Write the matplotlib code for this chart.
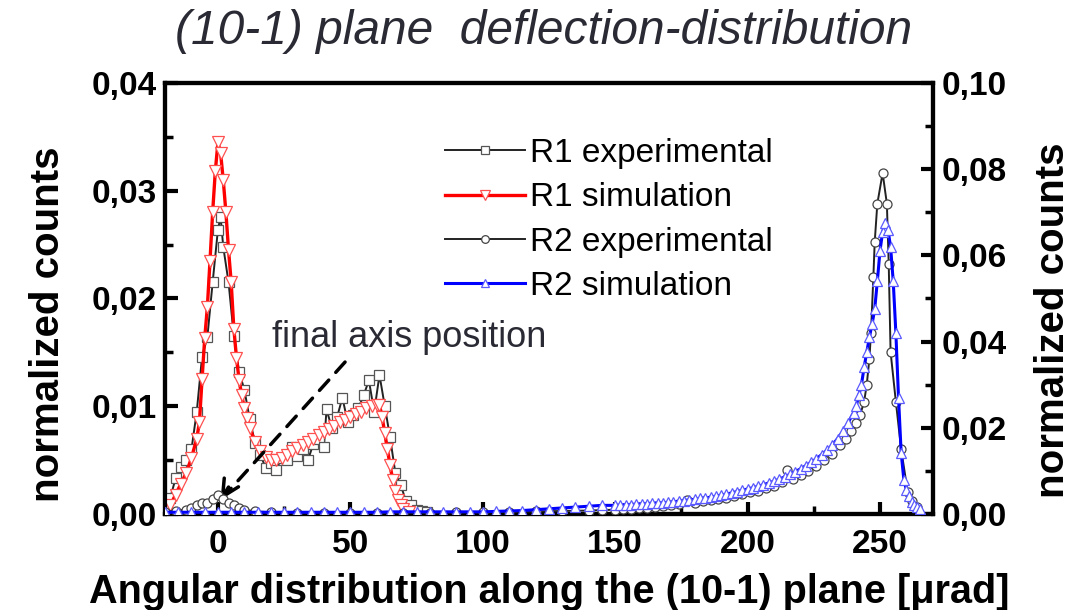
import numpy as np
import matplotlib
matplotlib.use("Agg")
import matplotlib.pyplot as plt
from matplotlib.ticker import FuncFormatter, MultipleLocator

plt.rcParams['font.family'] = ['Liberation Sans', 'DejaVu Sans']

# ---------------- data ----------------
r1_exp_x = [-18, -16, -14, -12, -10, -8, -6, -4, -2, 0, 1, 2, 4, 6, 8, 10, 12, 14, 16, 18,
            20, 22, 24, 26, 28, 30, 32, 34, 36, 38, 40, 41, 43, 45, 47, 49, 51, 53, 55, 57,
            59, 61, 63, 65, 67, 69, 71, 73, 75, 77, 79]
r1_exp_y = [0.0015, 0.0033, 0.0044, 0.0050, 0.0060, 0.0095, 0.0146, 0.0164, 0.0215, 0.0264,
            0.0276, 0.0248, 0.0215, 0.0165, 0.0132, 0.0115, 0.0088, 0.0066, 0.0055, 0.0043,
            0.0047, 0.0041, 0.0052, 0.0050, 0.0062, 0.0054, 0.0060, 0.0050, 0.0065, 0.0070,
            0.0062, 0.0097, 0.0080, 0.0090, 0.0108, 0.0085, 0.0092, 0.0098, 0.0110, 0.0124,
            0.0095, 0.0129, 0.0100, 0.0071, 0.0038, 0.0027, 0.0012, 0.0008, 0.0004, 0.0003,
            0.0002]

r1_sim_x = [-18, -16, -14, -12, -10, -8, -7, -6, -5, -4, -3, -2, -1, 0, 1, 2, 3, 4, 5, 6, 7,
            8, 9, 10, 11, 12, 14, 16, 18, 20, 22, 24, 26, 28, 30, 32, 34, 36, 38, 40, 42, 44,
            46, 48, 50, 52, 54, 56, 58, 60, 61, 62, 63, 64, 65, 66, 67, 68, 69, 70, 72]
r1_sim_y = [0.0008, 0.0018, 0.0028, 0.0038, 0.0052, 0.0070, 0.0085, 0.0125, 0.0163, 0.0192,
            0.0235, 0.0280, 0.0318, 0.0345, 0.0335, 0.0310, 0.0280, 0.0245, 0.0215, 0.0172,
            0.0145, 0.0124, 0.0110, 0.0098, 0.0089, 0.0080, 0.0067, 0.0058, 0.0053, 0.0050,
            0.0050, 0.0052, 0.0055, 0.0058, 0.0061, 0.0064, 0.0067, 0.0070, 0.0073, 0.0076,
            0.0079, 0.0082, 0.0085, 0.0087, 0.0090, 0.0093, 0.0095, 0.0098, 0.0100, 0.0101,
            0.0101, 0.0090, 0.0075, 0.0060, 0.0045, 0.0032, 0.0021, 0.0013, 0.0008, 0.0005,
            0.0002]

r2_exp_x = [-20, -16, -12, -10, -8, -6, -4, -2, 0, 2, 4, 6, 8, 10, 14, 20, 30, 40, 50, 60,
            70, 80, 90, 100, 110, 120, 130, 140, 145,
            150, 153, 156, 159, 162, 165, 168, 171, 174, 177, 180, 183, 186, 189, 192, 195,
            198, 201, 204, 207, 210, 213, 215, 217, 220, 223, 226, 229, 232, 235, 237, 239,
            241, 242.5, 244, 245, 246, 246.6, 247.5, 248, 249, 251, 252.6, 253.3, 254, 256,
            258, 260.5, 262, 264]
r2_exp_y = [0.0005, 0.0008, 0.0010, 0.0015, 0.0020, 0.0025, 0.0025, 0.0035, 0.0045, 0.0035,
            0.0025, 0.0020, 0.0015, 0.0010, 0.0006, 0.0004, 0.0003, 0.0003, 0.0003, 0.0003,
            0.0003, 0.0003, 0.0004, 0.0004, 0.0005, 0.0006, 0.0007, 0.0008, 0.0009,
            0.0010, 0.0011, 0.0012, 0.0013, 0.0014, 0.0016, 0.0018, 0.0020, 0.0023, 0.0032,
            0.0026, 0.0029, 0.0032, 0.0035, 0.0038, 0.0042, 0.0046, 0.0050, 0.0054, 0.0060,
            0.0066, 0.0075, 0.0102, 0.0082, 0.0090, 0.0100, 0.0112, 0.0125, 0.0140, 0.0160,
            0.0175, 0.0192, 0.0210, 0.0230, 0.0260, 0.0300, 0.0360, 0.0420, 0.0550, 0.0630,
            0.0720, 0.0791, 0.0720, 0.0580, 0.0376, 0.0260, 0.0150, 0.0050, 0.0030, 0.0016]

r2_sim_x = [-20, -15, -10, -5, 0, 5, 10, 15, 20, 25, 30, 35, 40, 45, 50, 55, 60, 65, 70, 75,
            80, 85, 90, 95, 100, 105, 110, 115, 120, 125, 130, 135, 140, 145,
            150, 152, 154, 156, 158, 160, 162, 164, 166, 168, 170, 172, 174, 176, 178, 180,
            182, 184, 186, 188, 190, 192, 194, 196, 198, 200, 202, 204, 206, 208, 210, 212,
            214, 216, 218, 220, 222, 224, 226, 228, 230, 232, 234, 236, 238, 240,
            241, 242, 243, 244, 245, 246, 247, 248, 249, 250, 251, 252, 253, 254, 255, 256,
            257, 258, 259, 260, 261, 262, 263, 264, 265]
r2_sim_y = [0.0004, 0.0004, 0.0004, 0.0004, 0.0004, 0.0004, 0.0004, 0.0004, 0.0004, 0.0004,
            0.0004, 0.0004, 0.0004, 0.0004, 0.0004, 0.0004, 0.0004, 0.0005, 0.0005, 0.0005,
            0.0005, 0.0005, 0.0005, 0.0005, 0.0005, 0.0006, 0.0007, 0.0008, 0.0010, 0.0012,
            0.0014, 0.0016, 0.0018, 0.0020,
            0.0020, 0.0021, 0.0022, 0.0022, 0.0023, 0.0024, 0.0024, 0.0025, 0.0026, 0.0026,
            0.0027, 0.0028, 0.0030, 0.0031, 0.0033, 0.0034, 0.0036, 0.0037, 0.0039, 0.0041,
            0.0044, 0.0046, 0.0049, 0.0052, 0.0055, 0.0058, 0.0061, 0.0064, 0.0068, 0.0072,
            0.0076, 0.0081, 0.0086, 0.0092, 0.0098, 0.0105, 0.0112, 0.0120, 0.0128, 0.0138,
            0.0148, 0.0160, 0.0175, 0.0192, 0.0212, 0.0235,
            0.0250, 0.0275, 0.0300, 0.0340, 0.0375, 0.0410, 0.0440, 0.0475, 0.0540, 0.0610,
            0.0655, 0.0675, 0.0660, 0.0620, 0.0540, 0.0420, 0.0270, 0.0142, 0.0080, 0.0055,
            0.0042, 0.0028, 0.0020, 0.0016, 0.0012]

labels = ["R1 experimental", "R1 simulation", "R2 experimental", "R2 simulation"]
x_ticks = [0, 50, 100, 150, 200, 250]
left_ticks = [0.00, 0.01, 0.02, 0.03, 0.04]
right_ticks = [0.00, 0.02, 0.04, 0.06, 0.08, 0.10]
title = "(10-1) plane  deflection-distribution"
xlabel = "Angular distribution along the (10-1) plane [\u03bcrad]"
ylabel = "normalized counts"
note = "final axis position"
arrow_tip = (1, 0.0013)
arrow_tail = (48, 0.0141)
note_pos = (20.5, 0.0164)

# ---------------- figure ----------------
fig = plt.figure(figsize=(10.89, 6.10), dpi=100)
ax = fig.add_axes([0.1515, 0.1574, 0.7052, 0.7066])
ax2 = ax.twinx()

comma = FuncFormatter(lambda v, p: f"{v:.2f}".replace('.', ','))

h1, = ax.plot(r1_exp_x, r1_exp_y, color='#222222', lw=1.4, marker='s', ms=6.5,
              mfc='white', mec='#555555', mew=0.9, zorder=3)
h2, = ax.plot(r1_sim_x, r1_sim_y, color='#ff0000', lw=2.4, marker='v', ms=8,
              mfc='white', mec='#ff5050', mew=0.9, zorder=4)
h3, = ax2.plot(r2_exp_x, r2_exp_y, color='#222222', lw=1.4, marker='o', ms=6.5,
               mfc='white', mec='#444444', mew=0.9, zorder=3)
h4, = ax2.plot(r2_sim_x, r2_sim_y, color='#0000ff', lw=2.2, marker='^', ms=7.5,
               mfc='white', mec='#5a5aff', mew=0.9, zorder=4)

ax.set_xlim(-20, 270)
ax.set_ylim(0, 0.04)
ax2.set_ylim(0, 0.10)

ax.set_xticks(x_ticks)
ax.xaxis.set_minor_locator(MultipleLocator(25))
ax.set_yticks(left_ticks)
ax.yaxis.set_minor_locator(MultipleLocator(0.005))
ax2.set_yticks(right_ticks)
ax2.yaxis.set_minor_locator(MultipleLocator(0.01))
ax.yaxis.set_major_formatter(comma)
ax2.yaxis.set_major_formatter(comma)

for a in (ax, ax2):
    for s in a.spines.values():
        s.set_linewidth(3)
    a.tick_params(which='major', direction='in', length=9, width=3,
                  labelsize=24, pad=6)
    a.tick_params(which='minor', direction='in', length=6, width=2.5)
    for lab in a.get_xticklabels() + a.get_yticklabels():
        lab.set_fontweight('bold')
ax.tick_params(axis='x', which='major', pad=11)
ax.tick_params(top=False, which='both')

ax.set_xlabel(xlabel, fontsize=28.5, fontweight='bold', labelpad=9)
ax.set_ylabel(ylabel, fontsize=29, fontweight='bold')
ax2.set_ylabel(ylabel, fontsize=29, fontweight='bold')
ax.yaxis.set_label_coords(-0.128, 0.44)
ax2.yaxis.set_label_coords(1.132, 0.45)

fig.text(0.499, (610 - 31) / 610, title, fontsize=34.5, style='italic', color='#2a2a35',
         ha='center', va='center')

ax.text(note_pos[0], note_pos[1], note, fontsize=26, color='#2a2a35', va='center',
        ha='left', zorder=6)
ax.annotate('', xy=arrow_tip, xytext=arrow_tail,
            arrowprops=dict(arrowstyle='-', linestyle=(0, (4, 3)), lw=2.5, color='black',
                            shrinkA=0, shrinkB=6), zorder=6)
ax.annotate('', xy=arrow_tip, xytext=(arrow_tip[0] + 3, arrow_tip[1] + 0.0012),
            arrowprops=dict(arrowstyle='->', lw=2.5, color='black', mutation_scale=30,
                            shrinkA=0, shrinkB=0), zorder=6)

leg = ax2.legend([h1, h2, h3, h4], labels, loc='upper left',
                 bbox_to_anchor=(445 / 1089, (610 - 138) / 610),
                 bbox_transform=fig.transFigure, frameon=False, fontsize=24,
                 handlelength=2.4, handletextpad=0.15, labelspacing=0.40,
                 markerscale=0.85, borderpad=0, borderaxespad=0)

fig.savefig("out.png", dpi=100)
